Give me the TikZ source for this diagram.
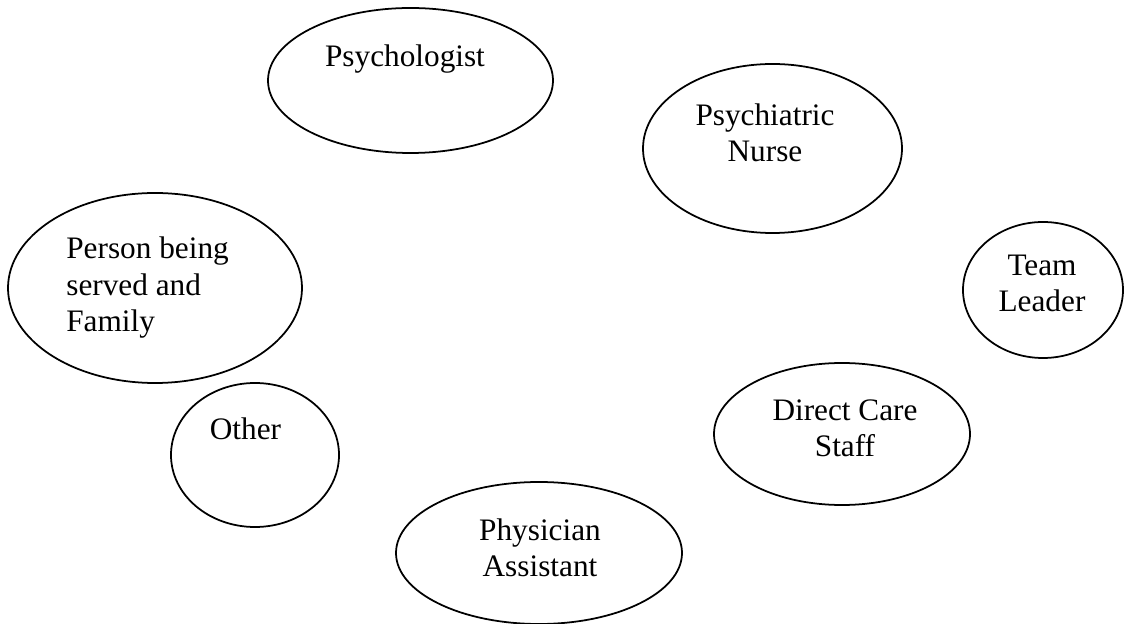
\documentclass[tikz,border=0pt]{standalone}
\usepackage{fontspec}
\setmainfont{Liberation Serif}
\tikzset{
  bubble/.style={line width=1pt},
  role/.style={font=\fontsize{17.8}{21}\selectfont, inner sep=0pt, align=center, anchor=base},
}
\begin{document}
\begin{tikzpicture}[x=0.02cm,y=-0.02cm]
		\useasboundingbox (0,0) rectangle (1126,624);
		\draw[bubble] (410.5,80.5) ellipse [x radius=142.5, y radius=72.5];
		\draw[bubble] (772.5,148.5) ellipse [x radius=129.5, y radius=84.5];
		\draw[bubble] (155,288) ellipse [x radius=147, y radius=95];
		\draw[bubble] (1043,290) ellipse [x radius=80, y radius=68];
		\draw[bubble] (255,455) ellipse [x radius=84, y radius=72];
		\draw[bubble] (842,434) ellipse [x radius=128, y radius=71];
		\draw[bubble] (539,553) ellipse [x radius=143, y radius=71];
		\node[role] (psychologist) at (405,67) {Psychologist};
		\node[role] (nurse) at (765,162) {Psychiatric\\Nurse};
		\node[role, align=left, anchor=base west] (person) at (66,332) {Person being\\served and\\Family};
		\node[role] (leader) at (1042,312) {Team\\Leader};
		\node[role] (other) at (245.5,440) {Other};
		\node[role] (staff) at (845,457) {Direct Care\\Staff};
		\node[role] (assistant) at (540,577) {Physician\\Assistant};
\end{tikzpicture}
\end{document}
